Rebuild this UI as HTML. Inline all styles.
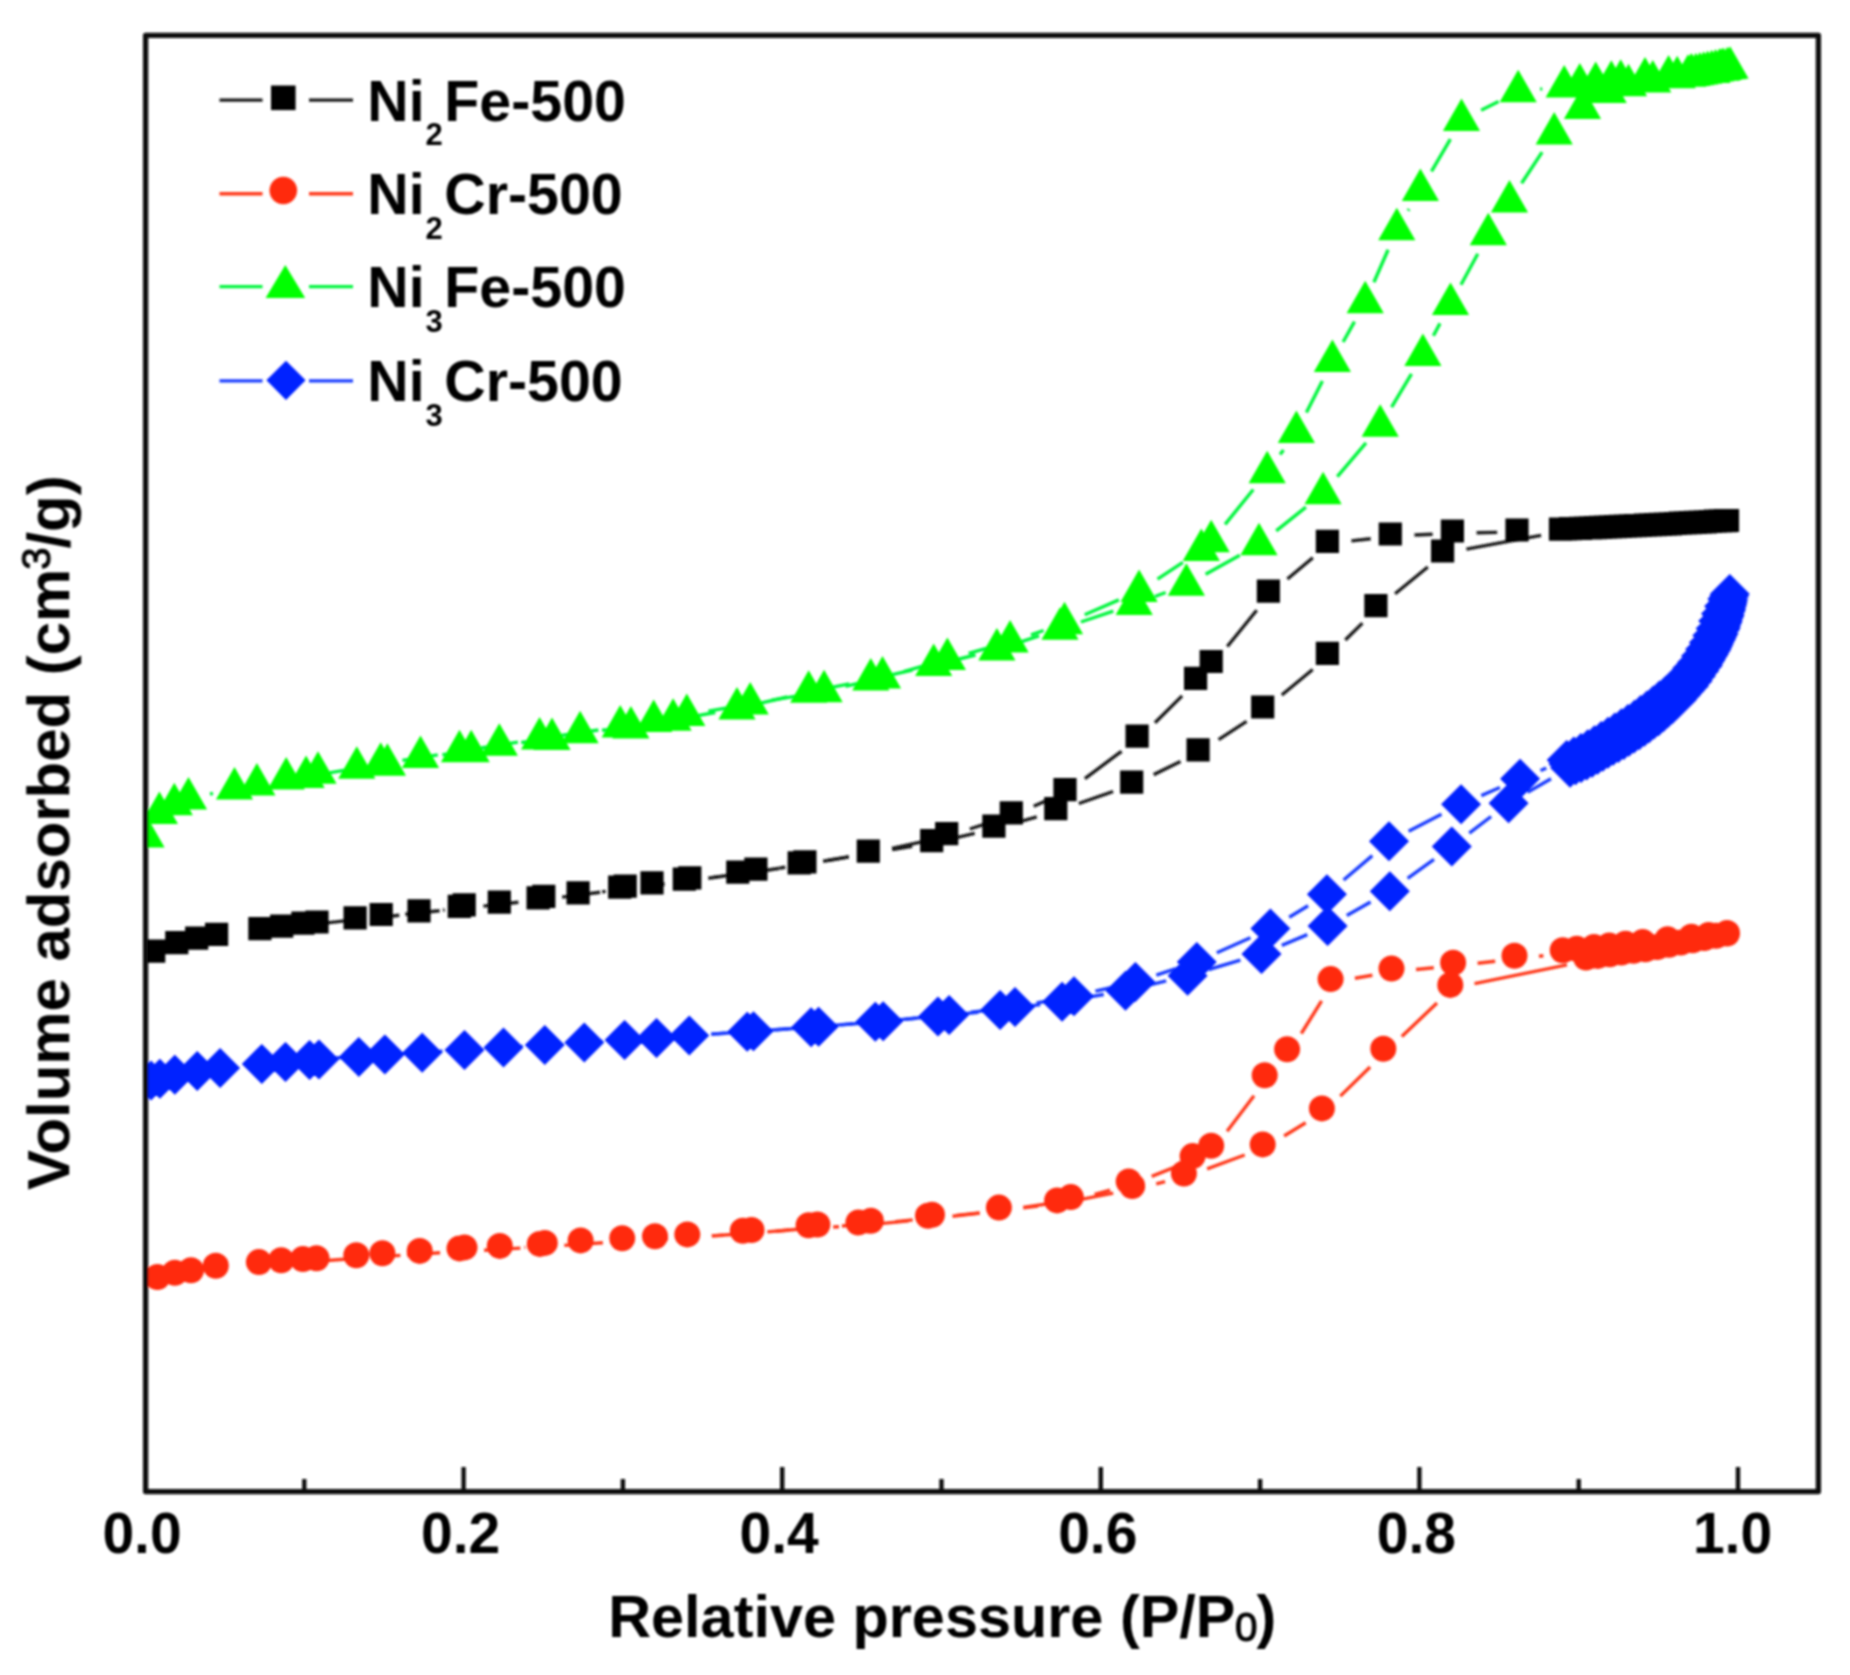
<!DOCTYPE html>
<html lang="en"><head><meta charset="utf-8"><title>N2 adsorption isotherms</title>
<style>html,body{margin:0;padding:0;background:#fff}svg{display:block}</style></head>
<body>
<svg width="1850" height="1675" viewBox="0 0 1850 1675">
<rect width="1850" height="1675" fill="#fff"/>
<defs><clipPath id="pc"><rect x="145.6" y="35.3" width="1672.8000000000002" height="1456.3"/></clipPath><filter id="soft" x="0" y="0" width="1850" height="1675" filterUnits="userSpaceOnUse"><feGaussianBlur stdDeviation="1.05"/></filter></defs>
<g filter="url(#soft)">
<g clip-path="url(#pc)">
<path d="M379.2 917.5L399.3 915.3M443.0 910.1L444.6 909.8M602.1 891.9L605.6 891.4M713.8 877.4L718.2 876.9M761.7 871.0L779.7 868.2M823.1 861.2L848.8 856.9M892.2 849.6L912.2 846.4M955.3 837.8L974.7 833.3M1017.3 822.3L1036.8 816.8M1078.8 803.5L1113.1 791.5M1153.7 774.6L1180.5 761.5M1218.6 739.7L1246.6 721.3M1281.8 695.0L1312.7 669.5M1345.3 640.0L1362.4 623.1M1395.1 593.8L1427.8 567.0M1466.4 549.1L1541.1 535.3" stroke="#1a1a1a" stroke-width="3.4" fill="none" stroke-linecap="butt"/>
<path d="M327.0 922.9L361.5 919.0M405.3 914.3L439.6 910.7M483.4 906.1L518.4 902.3M562.1 897.1L600.1 892.2M643.7 886.6L664.7 884.0M708.3 878.3L736.3 874.3M779.9 868.0L785.3 867.2M828.8 860.2L848.8 856.9M892.0 848.4L927.4 840.6M969.8 829.0L992.6 821.7M1033.7 806.2L1047.0 800.4M1084.9 778.6L1121.6 751.3M1155.0 722.8L1182.1 695.9M1227.3 646.5L1256.7 610.3M1287.4 579.0L1312.8 557.7M1351.4 540.9L1370.7 538.7M1414.5 535.0L1432.6 534.2M1476.6 532.8L1497.2 532.4" stroke="#1a1a1a" stroke-width="3.4" fill="none" stroke-linecap="butt"/>
<path d="M142.1 939.5h23.2v23.2h-23.2zM165.2 931.0h23.2v23.2h-23.2zM185.1 926.6h23.2v23.2h-23.2zM205.0 922.8h23.2v23.2h-23.2zM248.3 917.1h23.2v23.2h-23.2zM270.1 914.6h23.2v23.2h-23.2zM305.4 910.4h23.2v23.2h-23.2zM343.5 906.2h23.2v23.2h-23.2zM407.4 899.2h23.2v23.2h-23.2zM452.6 893.3h23.2v23.2h-23.2zM487.7 890.5h23.2v23.2h-23.2zM532.2 884.8h23.2v23.2h-23.2zM566.5 881.3h23.2v23.2h-23.2zM613.6 874.6h23.2v23.2h-23.2zM640.4 871.3h23.2v23.2h-23.2zM678.2 866.3h23.2v23.2h-23.2zM726.2 860.6h23.2v23.2h-23.2zM787.6 851.2h23.2v23.2h-23.2zM856.7 839.5h23.2v23.2h-23.2zM920.1 829.1h23.2v23.2h-23.2zM982.3 814.6h23.2v23.2h-23.2zM1044.2 797.1h23.2v23.2h-23.2zM1120.1 770.5h23.2v23.2h-23.2zM1186.5 738.2h23.2v23.2h-23.2zM1251.1 695.4h23.2v23.2h-23.2zM1315.8 641.7h23.2v23.2h-23.2zM1364.3 594.0h23.2v23.2h-23.2zM1431.0 539.4h23.2v23.2h-23.2zM1548.9 517.6h23.2v23.2h-23.2zM1553.9 517.4h23.2v23.2h-23.2zM1558.9 517.1h23.2v23.2h-23.2zM1563.9 516.9h23.2v23.2h-23.2zM1568.9 516.7h23.2v23.2h-23.2zM1573.9 516.4h23.2v23.2h-23.2zM1578.9 516.2h23.2v23.2h-23.2zM1583.9 516.0h23.2v23.2h-23.2zM1588.9 515.7h23.2v23.2h-23.2zM1593.9 515.5h23.2v23.2h-23.2zM1598.8 515.3h23.2v23.2h-23.2zM1603.8 515.0h23.2v23.2h-23.2zM1608.8 514.8h23.2v23.2h-23.2zM1613.8 514.6h23.2v23.2h-23.2zM1618.8 514.3h23.2v23.2h-23.2zM1623.8 514.1h23.2v23.2h-23.2zM1628.8 513.9h23.2v23.2h-23.2zM1633.8 513.6h23.2v23.2h-23.2zM1638.8 513.3h23.2v23.2h-23.2zM1643.8 513.0h23.2v23.2h-23.2zM1648.8 512.7h23.2v23.2h-23.2zM1653.8 512.5h23.2v23.2h-23.2zM1658.8 512.2h23.2v23.2h-23.2zM1663.8 511.9h23.2v23.2h-23.2zM1668.7 511.6h23.2v23.2h-23.2zM1673.7 511.3h23.2v23.2h-23.2zM1678.7 511.0h23.2v23.2h-23.2zM1683.7 510.7h23.2v23.2h-23.2zM1688.7 510.5h23.2v23.2h-23.2zM1693.7 510.2h23.2v23.2h-23.2zM1698.7 509.9h23.2v23.2h-23.2zM1703.7 509.6h23.2v23.2h-23.2zM1708.7 509.3h23.2v23.2h-23.2zM1713.7 509.0h23.2v23.2h-23.2zM1715.9 508.9h23.2v23.2h-23.2zM291.3 911.6h23.2v23.2h-23.2zM369.6 902.9h23.2v23.2h-23.2zM447.7 894.7h23.2v23.2h-23.2zM526.5 886.3h23.2v23.2h-23.2zM608.1 875.6h23.2v23.2h-23.2zM672.7 867.6h23.2v23.2h-23.2zM744.3 857.6h23.2v23.2h-23.2zM793.3 850.2h23.2v23.2h-23.2zM935.1 822.1h23.2v23.2h-23.2zM999.7 801.2h23.2v23.2h-23.2zM1053.4 778.0h23.2v23.2h-23.2zM1125.5 724.5h23.2v23.2h-23.2zM1184.0 666.8h23.2v23.2h-23.2zM1199.6 649.9h23.2v23.2h-23.2zM1256.8 579.5h23.2v23.2h-23.2zM1315.8 529.8h23.2v23.2h-23.2zM1378.7 522.4h23.2v23.2h-23.2zM1440.8 519.4h23.2v23.2h-23.2zM1505.4 518.4h23.2v23.2h-23.2z" fill="#000000"/>
<path d="M380.8 1256.8L400.4 1255.4M524.4 1247.4L525.4 1247.4M711.9 1235.9L723.4 1235.2M767.3 1231.9L789.3 1230.0M833.2 1227.0L839.0 1226.7M882.9 1223.4L908.7 1220.9M952.5 1216.3L979.6 1213.1M1023.3 1207.9L1037.9 1206.1M1081.3 1199.3L1113.2 1193.1M1156.2 1183.8L1165.1 1181.7M1207.1 1168.9L1244.7 1155.0M1284.1 1136.0L1305.7 1122.8M1340.3 1096.1L1370.1 1067.0M1401.8 1036.5L1437.0 1003.1M1474.5 983.6L1567.0 964.9" stroke="#ff3a1c" stroke-width="3.4" fill="none" stroke-linecap="butt"/>
<path d="M327.4 1260.5L363.1 1257.9M407.0 1254.9L440.1 1252.8M484.1 1250.2L520.4 1248.1M564.3 1245.4L602.9 1242.7M646.8 1239.9L667.9 1238.7M711.8 1235.9L732.2 1234.5M776.0 1231.2L798.1 1229.3M841.9 1226.0L851.5 1225.3M895.3 1221.7L912.7 1219.9M956.5 1215.4L979.6 1213.0M1023.3 1207.4L1051.6 1203.3M1094.6 1194.4L1110.1 1190.2M1151.7 1176.4L1174.8 1167.2M1227.1 1131.2L1254.0 1095.8M1301.3 1033.5L1321.6 1000.8M1354.9 978.3L1372.4 975.3M1416.0 969.5L1433.8 967.8M1477.6 963.3L1495.2 961.2M1539.0 956.3L1543.4 955.7" stroke="#ff3a1c" stroke-width="3.4" fill="none" stroke-linecap="butt"/>
<path d="M144.4 1277.0a13.0 13.0 0 1 0 26.0 0a13.0 13.0 0 1 0 -26.0 0zM161.8 1272.8a13.0 13.0 0 1 0 26.0 0a13.0 13.0 0 1 0 -26.0 0zM178.0 1270.3a13.0 13.0 0 1 0 26.0 0a13.0 13.0 0 1 0 -26.0 0zM202.8 1265.8a13.0 13.0 0 1 0 26.0 0a13.0 13.0 0 1 0 -26.0 0zM245.9 1262.1a13.0 13.0 0 1 0 26.0 0a13.0 13.0 0 1 0 -26.0 0zM268.2 1260.3a13.0 13.0 0 1 0 26.0 0a13.0 13.0 0 1 0 -26.0 0zM303.5 1258.3a13.0 13.0 0 1 0 26.0 0a13.0 13.0 0 1 0 -26.0 0zM343.3 1255.3a13.0 13.0 0 1 0 26.0 0a13.0 13.0 0 1 0 -26.0 0zM406.7 1250.9a13.0 13.0 0 1 0 26.0 0a13.0 13.0 0 1 0 -26.0 0zM451.5 1247.4a13.0 13.0 0 1 0 26.0 0a13.0 13.0 0 1 0 -26.0 0zM486.8 1245.9a13.0 13.0 0 1 0 26.0 0a13.0 13.0 0 1 0 -26.0 0zM531.8 1242.9a13.0 13.0 0 1 0 26.0 0a13.0 13.0 0 1 0 -26.0 0zM567.6 1240.4a13.0 13.0 0 1 0 26.0 0a13.0 13.0 0 1 0 -26.0 0zM609.2 1238.2a13.0 13.0 0 1 0 26.0 0a13.0 13.0 0 1 0 -26.0 0zM642.0 1236.2a13.0 13.0 0 1 0 26.0 0a13.0 13.0 0 1 0 -26.0 0zM674.3 1234.4a13.0 13.0 0 1 0 26.0 0a13.0 13.0 0 1 0 -26.0 0zM729.8 1230.7a13.0 13.0 0 1 0 26.0 0a13.0 13.0 0 1 0 -26.0 0zM795.6 1225.2a13.0 13.0 0 1 0 26.0 0a13.0 13.0 0 1 0 -26.0 0zM845.4 1222.5a13.0 13.0 0 1 0 26.0 0a13.0 13.0 0 1 0 -26.0 0zM915.0 1215.8a13.0 13.0 0 1 0 26.0 0a13.0 13.0 0 1 0 -26.0 0zM985.9 1207.6a13.0 13.0 0 1 0 26.0 0a13.0 13.0 0 1 0 -26.0 0zM1044.1 1200.4a13.0 13.0 0 1 0 26.0 0a13.0 13.0 0 1 0 -26.0 0zM1119.2 1186.0a13.0 13.0 0 1 0 26.0 0a13.0 13.0 0 1 0 -26.0 0zM1170.9 1173.5a13.0 13.0 0 1 0 26.0 0a13.0 13.0 0 1 0 -26.0 0zM1249.7 1144.4a13.0 13.0 0 1 0 26.0 0a13.0 13.0 0 1 0 -26.0 0zM1308.9 1108.4a13.0 13.0 0 1 0 26.0 0a13.0 13.0 0 1 0 -26.0 0zM1370.3 1048.7a13.0 13.0 0 1 0 26.0 0a13.0 13.0 0 1 0 -26.0 0zM1437.3 984.9a13.0 13.0 0 1 0 26.0 0a13.0 13.0 0 1 0 -26.0 0zM1573.0 957.6a13.0 13.0 0 1 0 26.0 0a13.0 13.0 0 1 0 -26.0 0zM1584.9 955.9a13.0 13.0 0 1 0 26.0 0a13.0 13.0 0 1 0 -26.0 0zM1596.8 954.2a13.0 13.0 0 1 0 26.0 0a13.0 13.0 0 1 0 -26.0 0zM1608.6 952.5a13.0 13.0 0 1 0 26.0 0a13.0 13.0 0 1 0 -26.0 0zM1620.5 950.8a13.0 13.0 0 1 0 26.0 0a13.0 13.0 0 1 0 -26.0 0zM1632.4 949.2a13.0 13.0 0 1 0 26.0 0a13.0 13.0 0 1 0 -26.0 0zM1644.2 947.1a13.0 13.0 0 1 0 26.0 0a13.0 13.0 0 1 0 -26.0 0zM1656.0 944.8a13.0 13.0 0 1 0 26.0 0a13.0 13.0 0 1 0 -26.0 0zM1667.8 942.5a13.0 13.0 0 1 0 26.0 0a13.0 13.0 0 1 0 -26.0 0zM1679.6 940.3a13.0 13.0 0 1 0 26.0 0a13.0 13.0 0 1 0 -26.0 0zM1691.3 938.0a13.0 13.0 0 1 0 26.0 0a13.0 13.0 0 1 0 -26.0 0zM1703.1 935.7a13.0 13.0 0 1 0 26.0 0a13.0 13.0 0 1 0 -26.0 0zM1714.0 933.6a13.0 13.0 0 1 0 26.0 0a13.0 13.0 0 1 0 -26.0 0zM289.9 1259.1a13.0 13.0 0 1 0 26.0 0a13.0 13.0 0 1 0 -26.0 0zM369.4 1253.3a13.0 13.0 0 1 0 26.0 0a13.0 13.0 0 1 0 -26.0 0zM446.5 1248.4a13.0 13.0 0 1 0 26.0 0a13.0 13.0 0 1 0 -26.0 0zM526.8 1243.9a13.0 13.0 0 1 0 26.0 0a13.0 13.0 0 1 0 -26.0 0zM738.5 1230.0a13.0 13.0 0 1 0 26.0 0a13.0 13.0 0 1 0 -26.0 0zM804.4 1224.5a13.0 13.0 0 1 0 26.0 0a13.0 13.0 0 1 0 -26.0 0zM857.8 1220.8a13.0 13.0 0 1 0 26.0 0a13.0 13.0 0 1 0 -26.0 0zM919.0 1214.8a13.0 13.0 0 1 0 26.0 0a13.0 13.0 0 1 0 -26.0 0zM1057.8 1197.1a13.0 13.0 0 1 0 26.0 0a13.0 13.0 0 1 0 -26.0 0zM1115.7 1181.5a13.0 13.0 0 1 0 26.0 0a13.0 13.0 0 1 0 -26.0 0zM1179.6 1156.1a13.0 13.0 0 1 0 26.0 0a13.0 13.0 0 1 0 -26.0 0zM1198.2 1145.7a13.0 13.0 0 1 0 26.0 0a13.0 13.0 0 1 0 -26.0 0zM1251.7 1075.3a13.0 13.0 0 1 0 26.0 0a13.0 13.0 0 1 0 -26.0 0zM1274.1 1049.2a13.0 13.0 0 1 0 26.0 0a13.0 13.0 0 1 0 -26.0 0zM1317.6 979.1a13.0 13.0 0 1 0 26.0 0a13.0 13.0 0 1 0 -26.0 0zM1378.5 968.5a13.0 13.0 0 1 0 26.0 0a13.0 13.0 0 1 0 -26.0 0zM1440.1 962.8a13.0 13.0 0 1 0 26.0 0a13.0 13.0 0 1 0 -26.0 0zM1501.5 955.7a13.0 13.0 0 1 0 26.0 0a13.0 13.0 0 1 0 -26.0 0zM1549.7 950.3a13.0 13.0 0 1 0 26.0 0a13.0 13.0 0 1 0 -26.0 0zM1563.8 948.8a13.0 13.0 0 1 0 26.0 0a13.0 13.0 0 1 0 -26.0 0zM1581.0 947.0a13.0 13.0 0 1 0 26.0 0a13.0 13.0 0 1 0 -26.0 0zM1596.2 945.4a13.0 13.0 0 1 0 26.0 0a13.0 13.0 0 1 0 -26.0 0zM1612.4 943.7a13.0 13.0 0 1 0 26.0 0a13.0 13.0 0 1 0 -26.0 0zM1629.7 941.9a13.0 13.0 0 1 0 26.0 0a13.0 13.0 0 1 0 -26.0 0zM1654.6 939.3a13.0 13.0 0 1 0 26.0 0a13.0 13.0 0 1 0 -26.0 0zM1678.4 936.7a13.0 13.0 0 1 0 26.0 0a13.0 13.0 0 1 0 -26.0 0zM1695.6 934.9a13.0 13.0 0 1 0 26.0 0a13.0 13.0 0 1 0 -26.0 0zM1714.0 933.0a13.0 13.0 0 1 0 26.0 0a13.0 13.0 0 1 0 -26.0 0z" fill="#ff2a0d"/>
<path d="M210.0 794.0L213.0 793.4M442.4 754.7L449.3 753.9M521.2 742.5L530.1 741.5M602.0 730.3L609.0 729.6M694.8 716.1L715.3 712.5M758.4 703.7L787.3 697.0M830.3 687.7L849.2 683.9M892.2 674.7L912.3 670.1M955.1 660.0L975.5 655.0M1017.8 642.9L1039.1 635.9M1080.9 622.0L1113.3 611.1M1154.9 596.5L1165.7 592.5M1205.6 574.2L1239.8 555.2M1276.2 530.8L1305.9 507.2M1337.3 476.7L1366.0 442.8M1391.6 407.1L1411.5 373.9M1433.4 335.7L1440.0 323.4M1461.0 284.7L1477.8 253.8M1521.6 183.3L1542.1 152.1" stroke="#00f53c" stroke-width="3.4" fill="none" stroke-linecap="butt"/>
<path d="M327.8 773.2L359.0 767.7M402.4 760.4L437.8 754.9M481.2 748.0L517.9 742.1M561.4 735.4L598.4 730.0M641.9 723.0L665.1 718.9M708.4 711.2L728.6 707.6M771.9 700.1L802.4 695.1M845.5 686.4L861.1 682.7M903.7 671.6L926.2 665.2M968.6 653.3L988.9 647.6M1031.0 634.8L1043.6 630.5M1084.7 614.7L1118.9 599.9M1157.5 579.1L1182.9 562.3M1225.1 524.4L1253.3 489.5M1280.1 454.6L1283.5 450.0M1306.4 412.6L1322.4 380.9M1343.1 342.0L1354.5 321.6M1373.9 282.2L1388.1 249.7M1408.1 210.6L1409.1 209.1M1431.5 171.3L1450.4 139.1M1481.1 110.2L1498.6 101.4M1540.1 89.1L1542.3 88.9" stroke="#00f53c" stroke-width="3.4" fill="none" stroke-linecap="butt"/>
<path d="M146.0 815.0l18.6 32.5h-37.2zM159.4 791.5l18.6 32.5h-37.2zM174.3 782.8l18.6 32.5h-37.2zM188.5 777.0l18.6 32.5h-37.2zM234.5 767.1l18.6 32.5h-37.2zM256.9 762.9l18.6 32.5h-37.2zM286.2 757.1l18.6 32.5h-37.2zM318.0 751.2l18.6 32.5h-37.2zM356.8 746.2l18.6 32.5h-37.2zM387.4 743.2l18.6 32.5h-37.2zM420.5 735.5l18.6 32.5h-37.2zM471.2 729.8l18.6 32.5h-37.2zM499.3 723.3l18.6 32.5h-37.2zM552.0 717.4l18.6 32.5h-37.2zM580.1 710.7l18.6 32.5h-37.2zM630.9 705.9l18.6 32.5h-37.2zM653.7 699.4l18.6 32.5h-37.2zM673.1 698.2l18.6 32.5h-37.2zM737.0 687.0l18.6 32.5h-37.2zM808.7 670.3l18.6 32.5h-37.2zM870.8 657.9l18.6 32.5h-37.2zM933.7 643.5l18.6 32.5h-37.2zM996.9 628.1l18.6 32.5h-37.2zM1060.0 607.3l18.6 32.5h-37.2zM1134.2 582.4l18.6 32.5h-37.2zM1186.4 563.3l18.6 32.5h-37.2zM1259.0 522.8l18.6 32.5h-37.2zM1323.1 471.8l18.6 32.5h-37.2zM1380.2 404.3l18.6 32.5h-37.2zM1422.9 333.4l18.6 32.5h-37.2zM1450.5 282.4l18.6 32.5h-37.2zM1488.3 212.8l18.6 32.5h-37.2zM1509.5 180.0l18.6 32.5h-37.2zM1554.2 112.1l18.6 32.5h-37.2zM1582.5 86.6l18.6 32.5h-37.2zM1593.0 70.5l18.6 32.5h-37.2zM1608.2 70.5l18.6 32.5h-37.2zM1628.5 63.8l18.6 32.5h-37.2zM1652.8 60.0l18.6 32.5h-37.2zM1677.2 55.7l18.6 32.5h-37.2zM1688.0 54.2l18.6 32.5h-37.2zM1691.9 53.5l18.6 32.5h-37.2zM1695.9 52.7l18.6 32.5h-37.2zM1699.8 52.0l18.6 32.5h-37.2zM1703.7 51.2l18.6 32.5h-37.2zM1707.6 50.5l18.6 32.5h-37.2zM1711.6 49.7l18.6 32.5h-37.2zM1715.5 49.0l18.6 32.5h-37.2zM1719.4 48.2l18.6 32.5h-37.2zM1723.4 47.5l18.6 32.5h-37.2zM1727.3 46.7l18.6 32.5h-37.2zM1730.1 46.2l18.6 32.5h-37.2zM306.1 755.4l18.6 32.5h-37.2zM380.7 742.2l18.6 32.5h-37.2zM459.5 729.8l18.6 32.5h-37.2zM539.6 716.9l18.6 32.5h-37.2zM620.2 705.1l18.6 32.5h-37.2zM686.8 693.5l18.6 32.5h-37.2zM750.2 682.0l18.6 32.5h-37.2zM824.1 669.8l18.6 32.5h-37.2zM882.5 655.9l18.6 32.5h-37.2zM947.4 637.5l18.6 32.5h-37.2zM1010.1 620.1l18.6 32.5h-37.2zM1064.5 601.8l18.6 32.5h-37.2zM1139.1 569.5l18.6 32.5h-37.2zM1201.3 528.5l18.6 32.5h-37.2zM1211.2 519.8l18.6 32.5h-37.2zM1267.2 450.7l18.6 32.5h-37.2zM1296.4 410.5l18.6 32.5h-37.2zM1332.4 339.6l18.6 32.5h-37.2zM1365.2 280.7l18.6 32.5h-37.2zM1396.8 207.8l18.6 32.5h-37.2zM1420.4 168.6l18.6 32.5h-37.2zM1461.5 98.4l18.6 32.5h-37.2zM1518.2 69.8l18.6 32.5h-37.2zM1564.2 64.9l18.6 32.5h-37.2zM1579.8 62.9l18.6 32.5h-37.2zM1595.7 61.6l18.6 32.5h-37.2zM1611.3 60.2l18.6 32.5h-37.2zM1620.7 59.2l18.6 32.5h-37.2zM1645.0 57.0l18.6 32.5h-37.2zM1668.6 55.0l18.6 32.5h-37.2zM1691.0 53.2l18.6 32.5h-37.2zM1711.9 50.5l18.6 32.5h-37.2zM1721.4 48.2l18.6 32.5h-37.2z" fill="#00ff00"/>
<path d="M380.8 1055.4L400.2 1054.2M711.3 1034.1L725.2 1033.2M769.1 1030.3L789.2 1028.8M833.0 1025.4L853.4 1023.7M897.2 1019.9L916.1 1018.3M959.9 1014.1L978.2 1012.2M1021.9 1007.0L1040.3 1004.6M1083.8 997.9L1103.8 994.5M1146.9 985.6L1166.2 980.9M1208.7 969.5L1240.4 960.2M1281.8 945.4L1307.3 934.6M1346.8 915.4L1370.6 902.0M1407.6 878.4L1434.0 859.4M1469.3 833.2L1491.1 816.5M1527.6 792.2L1551.0 778.7" stroke="#1a3cff" stroke-width="3.4" fill="none" stroke-linecap="butt"/>
<path d="M331.5 1058.3L363.0 1056.0M406.9 1053.2L442.5 1051.2M486.5 1048.6L522.8 1046.4M566.8 1043.6L602.6 1041.4M646.5 1038.5L667.4 1037.0M711.3 1034.1L731.5 1032.7M775.4 1029.8L796.7 1028.3M840.5 1024.9L861.3 1023.2M905.1 1019.2L927.2 1017.0M970.9 1012.2L993.2 1009.6M1036.6 1003.0L1052.4 1000.1M1095.4 991.2L1114.0 987.0M1156.3 975.2L1175.9 968.7M1216.8 952.8L1250.4 937.7M1289.2 917.2L1308.1 905.7M1343.6 880.0L1372.3 855.6M1408.6 831.3L1441.5 814.3M1481.3 795.6L1499.9 787.5M1540.5 770.5L1546.3 768.2" stroke="#1a3cff" stroke-width="3.4" fill="none" stroke-linecap="butt"/>
<path d="M151.0 1060.5l20.0 20.0l-20.0 20.0l-20.0 -20.0zM159.9 1058.8l20.0 20.0l-20.0 20.0l-20.0 -20.0zM174.8 1054.8l20.0 20.0l-20.0 20.0l-20.0 -20.0zM197.2 1051.1l20.0 20.0l-20.0 20.0l-20.0 -20.0zM220.1 1048.1l20.0 20.0l-20.0 20.0l-20.0 -20.0zM261.8 1043.9l20.0 20.0l-20.0 20.0l-20.0 -20.0zM285.5 1041.9l20.0 20.0l-20.0 20.0l-20.0 -20.0zM319.0 1039.4l20.0 20.0l-20.0 20.0l-20.0 -20.0zM358.8 1036.9l20.0 20.0l-20.0 20.0l-20.0 -20.0zM422.2 1032.7l20.0 20.0l-20.0 20.0l-20.0 -20.0zM464.5 1030.0l20.0 20.0l-20.0 20.0l-20.0 -20.0zM503.5 1027.5l20.0 20.0l-20.0 20.0l-20.0 -20.0zM544.8 1025.0l20.0 20.0l-20.0 20.0l-20.0 -20.0zM584.3 1022.5l20.0 20.0l-20.0 20.0l-20.0 -20.0zM624.6 1020.0l20.0 20.0l-20.0 20.0l-20.0 -20.0zM656.5 1018.0l20.0 20.0l-20.0 20.0l-20.0 -20.0zM689.3 1015.5l20.0 20.0l-20.0 20.0l-20.0 -20.0zM747.2 1011.8l20.0 20.0l-20.0 20.0l-20.0 -20.0zM811.1 1007.3l20.0 20.0l-20.0 20.0l-20.0 -20.0zM875.3 1001.8l20.0 20.0l-20.0 20.0l-20.0 -20.0zM938.0 996.4l20.0 20.0l-20.0 20.0l-20.0 -20.0zM1000.1 989.9l20.0 20.0l-20.0 20.0l-20.0 -20.0zM1062.1 981.7l20.0 20.0l-20.0 20.0l-20.0 -20.0zM1125.5 970.7l20.0 20.0l-20.0 20.0l-20.0 -20.0zM1187.6 955.8l20.0 20.0l-20.0 20.0l-20.0 -20.0zM1261.5 933.9l20.0 20.0l-20.0 20.0l-20.0 -20.0zM1327.6 906.1l20.0 20.0l-20.0 20.0l-20.0 -20.0zM1389.8 871.3l20.0 20.0l-20.0 20.0l-20.0 -20.0zM1451.8 826.5l20.0 20.0l-20.0 20.0l-20.0 -20.0zM1508.6 783.2l20.0 20.0l-20.0 20.0l-20.0 -20.0zM1570.1 747.7l20.0 20.0l-20.0 20.0l-20.0 -20.0zM309.6 1039.9l20.0 20.0l-20.0 20.0l-20.0 -20.0zM384.9 1034.4l20.0 20.0l-20.0 20.0l-20.0 -20.0zM753.5 1011.3l20.0 20.0l-20.0 20.0l-20.0 -20.0zM818.6 1006.8l20.0 20.0l-20.0 20.0l-20.0 -20.0zM883.2 1001.3l20.0 20.0l-20.0 20.0l-20.0 -20.0zM949.1 994.9l20.0 20.0l-20.0 20.0l-20.0 -20.0zM1015.0 986.9l20.0 20.0l-20.0 20.0l-20.0 -20.0zM1074.0 976.2l20.0 20.0l-20.0 20.0l-20.0 -20.0zM1135.4 962.0l20.0 20.0l-20.0 20.0l-20.0 -20.0zM1196.8 941.9l20.0 20.0l-20.0 20.0l-20.0 -20.0zM1270.4 908.6l20.0 20.0l-20.0 20.0l-20.0 -20.0zM1326.9 874.3l20.0 20.0l-20.0 20.0l-20.0 -20.0zM1389.0 821.3l20.0 20.0l-20.0 20.0l-20.0 -20.0zM1461.1 784.3l20.0 20.0l-20.0 20.0l-20.0 -20.0zM1520.1 758.8l20.0 20.0l-20.0 20.0l-20.0 -20.0zM1566.7 739.9l20.0 20.0l-20.0 20.0l-20.0 -20.0zM1575.6 745.3l20.0 20.0l-20.0 20.0l-20.0 -20.0zM1581.1 742.9l20.0 20.0l-20.0 20.0l-20.0 -20.0zM1586.7 740.4l20.0 20.0l-20.0 20.0l-20.0 -20.0zM1592.2 737.7l20.0 20.0l-20.0 20.0l-20.0 -20.0zM1597.6 734.7l20.0 20.0l-20.0 20.0l-20.0 -20.0zM1602.8 731.7l20.0 20.0l-20.0 20.0l-20.0 -20.0zM1608.0 728.8l20.0 20.0l-20.0 20.0l-20.0 -20.0zM1613.2 725.8l20.0 20.0l-20.0 20.0l-20.0 -20.0zM1618.4 722.9l20.0 20.0l-20.0 20.0l-20.0 -20.0zM1623.8 719.9l20.0 20.0l-20.0 20.0l-20.0 -20.0zM1628.9 716.7l20.0 20.0l-20.0 20.0l-20.0 -20.0zM1634.0 713.5l20.0 20.0l-20.0 20.0l-20.0 -20.0zM1639.2 710.3l20.0 20.0l-20.0 20.0l-20.0 -20.0zM1644.3 706.8l20.0 20.0l-20.0 20.0l-20.0 -20.0zM1649.1 703.2l20.0 20.0l-20.0 20.0l-20.0 -20.0zM1653.9 699.5l20.0 20.0l-20.0 20.0l-20.0 -20.0zM1658.8 695.9l20.0 20.0l-20.0 20.0l-20.0 -20.0zM1663.5 692.1l20.0 20.0l-20.0 20.0l-20.0 -20.0zM1668.0 688.1l20.0 20.0l-20.0 20.0l-20.0 -20.0zM1672.5 684.0l20.0 20.0l-20.0 20.0l-20.0 -20.0zM1676.9 679.7l20.0 20.0l-20.0 20.0l-20.0 -20.0zM1681.0 675.1l20.0 20.0l-20.0 20.0l-20.0 -20.0zM1684.9 670.6l20.0 20.0l-20.0 20.0l-20.0 -20.0zM1689.0 666.0l20.0 20.0l-20.0 20.0l-20.0 -20.0zM1692.6 661.1l20.0 20.0l-20.0 20.0l-20.0 -20.0zM1695.9 656.0l20.0 20.0l-20.0 20.0l-20.0 -20.0zM1699.2 651.0l20.0 20.0l-20.0 20.0l-20.0 -20.0zM1702.5 646.0l20.0 20.0l-20.0 20.0l-20.0 -20.0zM1705.2 640.6l20.0 20.0l-20.0 20.0l-20.0 -20.0zM1708.1 635.3l20.0 20.0l-20.0 20.0l-20.0 -20.0zM1711.1 630.1l20.0 20.0l-20.0 20.0l-20.0 -20.0zM1713.6 624.7l20.0 20.0l-20.0 20.0l-20.0 -20.0zM1716.1 619.2l20.0 20.0l-20.0 20.0l-20.0 -20.0zM1718.5 613.7l20.0 20.0l-20.0 20.0l-20.0 -20.0zM1720.5 608.1l20.0 20.0l-20.0 20.0l-20.0 -20.0zM1722.3 602.4l20.0 20.0l-20.0 20.0l-20.0 -20.0zM1724.1 596.6l20.0 20.0l-20.0 20.0l-20.0 -20.0zM1725.7 590.8l20.0 20.0l-20.0 20.0l-20.0 -20.0zM1727.1 585.0l20.0 20.0l-20.0 20.0l-20.0 -20.0zM1728.5 579.2l20.0 20.0l-20.0 20.0l-20.0 -20.0zM1729.8 574.0l20.0 20.0l-20.0 20.0l-20.0 -20.0zM1568.5 744.0l20.0 20.0l-20.0 20.0l-20.0 -20.0zM1571.4 742.7l20.0 20.0l-20.0 20.0l-20.0 -20.0zM1574.4 741.4l20.0 20.0l-20.0 20.0l-20.0 -20.0zM1577.3 740.2l20.0 20.0l-20.0 20.0l-20.0 -20.0zM1580.2 738.9l20.0 20.0l-20.0 20.0l-20.0 -20.0zM1583.2 737.6l20.0 20.0l-20.0 20.0l-20.0 -20.0zM1586.1 736.3l20.0 20.0l-20.0 20.0l-20.0 -20.0zM1589.0 734.9l20.0 20.0l-20.0 20.0l-20.0 -20.0zM1591.8 733.3l20.0 20.0l-20.0 20.0l-20.0 -20.0zM1594.5 731.8l20.0 20.0l-20.0 20.0l-20.0 -20.0zM1597.3 730.2l20.0 20.0l-20.0 20.0l-20.0 -20.0zM1600.1 728.6l20.0 20.0l-20.0 20.0l-20.0 -20.0zM1602.9 727.0l20.0 20.0l-20.0 20.0l-20.0 -20.0zM1605.7 725.5l20.0 20.0l-20.0 20.0l-20.0 -20.0zM1608.5 723.9l20.0 20.0l-20.0 20.0l-20.0 -20.0zM1611.3 722.3l20.0 20.0l-20.0 20.0l-20.0 -20.0zM1614.1 720.8l20.0 20.0l-20.0 20.0l-20.0 -20.0zM1616.8 719.2l20.0 20.0l-20.0 20.0l-20.0 -20.0zM1619.6 717.6l20.0 20.0l-20.0 20.0l-20.0 -20.0zM1622.4 716.1l20.0 20.0l-20.0 20.0l-20.0 -20.0zM1625.1 714.4l20.0 20.0l-20.0 20.0l-20.0 -20.0zM1627.8 712.7l20.0 20.0l-20.0 20.0l-20.0 -20.0zM1630.6 711.0l20.0 20.0l-20.0 20.0l-20.0 -20.0zM1633.3 709.3l20.0 20.0l-20.0 20.0l-20.0 -20.0zM1636.0 707.6l20.0 20.0l-20.0 20.0l-20.0 -20.0zM1638.7 705.9l20.0 20.0l-20.0 20.0l-20.0 -20.0zM1641.3 704.0l20.0 20.0l-20.0 20.0l-20.0 -20.0zM1643.9 702.1l20.0 20.0l-20.0 20.0l-20.0 -20.0zM1646.4 700.2l20.0 20.0l-20.0 20.0l-20.0 -20.0zM1649.0 698.3l20.0 20.0l-20.0 20.0l-20.0 -20.0zM1651.5 696.4l20.0 20.0l-20.0 20.0l-20.0 -20.0zM1654.1 694.4l20.0 20.0l-20.0 20.0l-20.0 -20.0zM1656.7 692.5l20.0 20.0l-20.0 20.0l-20.0 -20.0zM1659.1 690.5l20.0 20.0l-20.0 20.0l-20.0 -20.0zM1661.6 688.5l20.0 20.0l-20.0 20.0l-20.0 -20.0zM1664.1 686.5l20.0 20.0l-20.0 20.0l-20.0 -20.0zM1666.6 684.4l20.0 20.0l-20.0 20.0l-20.0 -20.0zM1669.1 682.4l20.0 20.0l-20.0 20.0l-20.0 -20.0zM1671.6 680.4l20.0 20.0l-20.0 20.0l-20.0 -20.0zM1674.0 678.4l20.0 20.0l-20.0 20.0l-20.0 -20.0zM1676.3 676.1l20.0 20.0l-20.0 20.0l-20.0 -20.0zM1678.6 673.8l20.0 20.0l-20.0 20.0l-20.0 -20.0zM1680.8 671.6l20.0 20.0l-20.0 20.0l-20.0 -20.0zM1683.1 669.3l20.0 20.0l-20.0 20.0l-20.0 -20.0zM1685.3 667.1l20.0 20.0l-20.0 20.0l-20.0 -20.0zM1687.6 664.8l20.0 20.0l-20.0 20.0l-20.0 -20.0zM1689.8 662.4l20.0 20.0l-20.0 20.0l-20.0 -20.0zM1691.7 659.9l20.0 20.0l-20.0 20.0l-20.0 -20.0zM1693.6 657.3l20.0 20.0l-20.0 20.0l-20.0 -20.0zM1695.5 654.8l20.0 20.0l-20.0 20.0l-20.0 -20.0zM1697.5 652.2l20.0 20.0l-20.0 20.0l-20.0 -20.0zM1699.4 649.6l20.0 20.0l-20.0 20.0l-20.0 -20.0zM1701.3 647.1l20.0 20.0l-20.0 20.0l-20.0 -20.0zM1703.0 644.4l20.0 20.0l-20.0 20.0l-20.0 -20.0zM1704.6 641.6l20.0 20.0l-20.0 20.0l-20.0 -20.0zM1706.2 638.8l20.0 20.0l-20.0 20.0l-20.0 -20.0zM1707.7 636.0l20.0 20.0l-20.0 20.0l-20.0 -20.0zM1709.3 633.2l20.0 20.0l-20.0 20.0l-20.0 -20.0zM1710.9 630.5l20.0 20.0l-20.0 20.0l-20.0 -20.0zM1712.3 627.6l20.0 20.0l-20.0 20.0l-20.0 -20.0zM1714.9 621.8l20.0 20.0l-20.0 20.0l-20.0 -20.0zM1716.2 618.8l20.0 20.0l-20.0 20.0l-20.0 -20.0zM1717.5 615.9l20.0 20.0l-20.0 20.0l-20.0 -20.0zM1718.8 613.0l20.0 20.0l-20.0 20.0l-20.0 -20.0zM1719.9 610.0l20.0 20.0l-20.0 20.0l-20.0 -20.0zM1720.9 606.9l20.0 20.0l-20.0 20.0l-20.0 -20.0zM1721.8 603.9l20.0 20.0l-20.0 20.0l-20.0 -20.0zM1722.8 600.8l20.0 20.0l-20.0 20.0l-20.0 -20.0zM1723.8 597.8l20.0 20.0l-20.0 20.0l-20.0 -20.0zM1724.7 594.7l20.0 20.0l-20.0 20.0l-20.0 -20.0zM1725.5 591.6l20.0 20.0l-20.0 20.0l-20.0 -20.0zM1726.3 588.5l20.0 20.0l-20.0 20.0l-20.0 -20.0zM1727.0 585.4l20.0 20.0l-20.0 20.0l-20.0 -20.0zM1727.8 582.3l20.0 20.0l-20.0 20.0l-20.0 -20.0zM1729.3 576.1l20.0 20.0l-20.0 20.0l-20.0 -20.0zM1573.9 736.4l20.0 20.0l-20.0 20.0l-20.0 -20.0zM1581.0 732.9l20.0 20.0l-20.0 20.0l-20.0 -20.0zM1587.8 729.3l20.0 20.0l-20.0 20.0l-20.0 -20.0zM1594.5 725.2l20.0 20.0l-20.0 20.0l-20.0 -20.0zM1601.3 720.9l20.0 20.0l-20.0 20.0l-20.0 -20.0zM1608.1 716.7l20.0 20.0l-20.0 20.0l-20.0 -20.0zM1614.9 712.6l20.0 20.0l-20.0 20.0l-20.0 -20.0zM1621.5 708.3l20.0 20.0l-20.0 20.0l-20.0 -20.0zM1628.0 703.9l20.0 20.0l-20.0 20.0l-20.0 -20.0zM1634.5 699.7l20.0 20.0l-20.0 20.0l-20.0 -20.0zM1640.7 695.1l20.0 20.0l-20.0 20.0l-20.0 -20.0zM1647.0 690.4l20.0 20.0l-20.0 20.0l-20.0 -20.0zM1653.3 685.6l20.0 20.0l-20.0 20.0l-20.0 -20.0zM1659.4 680.6l20.0 20.0l-20.0 20.0l-20.0 -20.0zM1665.5 675.7l20.0 20.0l-20.0 20.0l-20.0 -20.0zM1671.2 670.6l20.0 20.0l-20.0 20.0l-20.0 -20.0zM1676.6 665.1l20.0 20.0l-20.0 20.0l-20.0 -20.0zM1682.3 660.0l20.0 20.0l-20.0 20.0l-20.0 -20.0zM1687.2 654.4l20.0 20.0l-20.0 20.0l-20.0 -20.0zM1692.2 648.3l20.0 20.0l-20.0 20.0l-20.0 -20.0zM1697.0 642.4l20.0 20.0l-20.0 20.0l-20.0 -20.0zM1701.0 635.9l20.0 20.0l-20.0 20.0l-20.0 -20.0zM1705.1 629.2l20.0 20.0l-20.0 20.0l-20.0 -20.0zM1708.9 622.5l20.0 20.0l-20.0 20.0l-20.0 -20.0zM1712.3 615.4l20.0 20.0l-20.0 20.0l-20.0 -20.0zM1715.6 608.4l20.0 20.0l-20.0 20.0l-20.0 -20.0zM1718.2 601.1l20.0 20.0l-20.0 20.0l-20.0 -20.0zM1721.0 593.7l20.0 20.0l-20.0 20.0l-20.0 -20.0zM1724.1 586.3l20.0 20.0l-20.0 20.0l-20.0 -20.0zM1727.3 578.9l20.0 20.0l-20.0 20.0l-20.0 -20.0z" fill="#0020ff"/>
</g>
<rect x="145.6" y="35.3" width="1672.8000000000002" height="1456.3" fill="none" stroke="#111" stroke-width="5.3" stroke-linejoin="round"/>
<path d="M304.3 1491.6V1479.1M463.6 1491.6V1467.1M622.9 1491.6V1479.1M782.2 1491.6V1467.1M941.5 1491.6V1479.1M1100.8 1491.6V1467.1M1260.1 1491.6V1479.1M1419.4 1491.6V1467.1M1578.7 1491.6V1479.1M1738.0 1491.6V1467.1" stroke="#111" stroke-width="4.4" fill="none"/>
<text x="142.0" y="1552.6" font-size="57" text-anchor="middle" font-family="Liberation Sans, Arial, Helvetica, sans-serif" font-weight="bold" fill="#000">0.0</text>
<text x="460.6" y="1552.6" font-size="57" text-anchor="middle" font-family="Liberation Sans, Arial, Helvetica, sans-serif" font-weight="bold" fill="#000">0.2</text>
<text x="779.2" y="1552.6" font-size="57" text-anchor="middle" font-family="Liberation Sans, Arial, Helvetica, sans-serif" font-weight="bold" fill="#000">0.4</text>
<text x="1097.8" y="1552.6" font-size="57" text-anchor="middle" font-family="Liberation Sans, Arial, Helvetica, sans-serif" font-weight="bold" fill="#000">0.6</text>
<text x="1416.4" y="1552.6" font-size="57" text-anchor="middle" font-family="Liberation Sans, Arial, Helvetica, sans-serif" font-weight="bold" fill="#000">0.8</text>
<text x="1732.5" y="1552.6" font-size="57" text-anchor="middle" font-family="Liberation Sans, Arial, Helvetica, sans-serif" font-weight="bold" fill="#000">1.0</text>
<text x="608.2" y="1636.5" font-size="59.4" font-family="Liberation Sans, Arial, Helvetica, sans-serif" font-weight="bold" fill="#000">Relative pressure (P/P<tspan font-size="40.5" font-weight="normal" stroke="#000" stroke-width="1.1" dy="4.5" dx="-0.5">0</tspan><tspan dy="-4.5" dx="-1">)</tspan></text>
<text transform="translate(69.2 1190) rotate(-90)" font-size="59.9" font-family="Liberation Sans, Arial, Helvetica, sans-serif" font-weight="bold" fill="#000">Volume adsorbed (cm<tspan font-size="40" font-weight="normal" stroke="#000" stroke-width="1.1" dy="-19" dx="-1">3</tspan><tspan dy="19" dx="-1">/g)</tspan></text>
<path d="M219.5 100.1H262.5M309 100.1H353" stroke="#1a1a1a" stroke-width="3.4" fill="none"/>
<path d="M271.0 85.5h24.6v24.6h-24.6z" fill="#000000"/>
<text x="367.3" y="120.5" font-size="57.3" font-family="Liberation Sans, Arial, Helvetica, sans-serif" font-weight="bold" fill="#000">Ni<tspan font-size="31" dy="24.5" dx="1">2</tspan><tspan dy="-24.5" dx="1.5">Fe-500</tspan></text>
<path d="M219.5 193.8H262.5M309 193.8H353" stroke="#ff3a1c" stroke-width="3.4" fill="none"/>
<path d="M269.5 190.5a13.8 13.8 0 1 0 27.6 0a13.8 13.8 0 1 0 -27.6 0z" fill="#ff2a0d"/>
<text x="367.3" y="214.2" font-size="57.3" font-family="Liberation Sans, Arial, Helvetica, sans-serif" font-weight="bold" fill="#000">Ni<tspan font-size="31" dy="24.5" dx="1">2</tspan><tspan dy="-24.5" dx="1.5">Cr-500</tspan></text>
<path d="M219.5 286.6H262.5M309 286.6H353" stroke="#00f53c" stroke-width="3.4" fill="none"/>
<path d="M285.3 265.0L305.2 298.0H265.6z" fill="#00ff00"/>
<text x="367.3" y="307.0" font-size="57.3" font-family="Liberation Sans, Arial, Helvetica, sans-serif" font-weight="bold" fill="#000">Ni<tspan font-size="31" dy="24.5" dx="1">3</tspan><tspan dy="-24.5" dx="1.5">Fe-500</tspan></text>
<path d="M219.5 380.9H262.5M309 380.9H353" stroke="#1a3cff" stroke-width="3.4" fill="none"/>
<path d="M286.0 360.7l19.6 19.6l-19.6 19.6l-19.6 -19.6z" fill="#0020ff"/>
<text x="367.3" y="401.3" font-size="57.3" font-family="Liberation Sans, Arial, Helvetica, sans-serif" font-weight="bold" fill="#000">Ni<tspan font-size="31" dy="24.5" dx="1">3</tspan><tspan dy="-24.5" dx="1.5">Cr-500</tspan></text>
</g>
</svg>
</body></html>
